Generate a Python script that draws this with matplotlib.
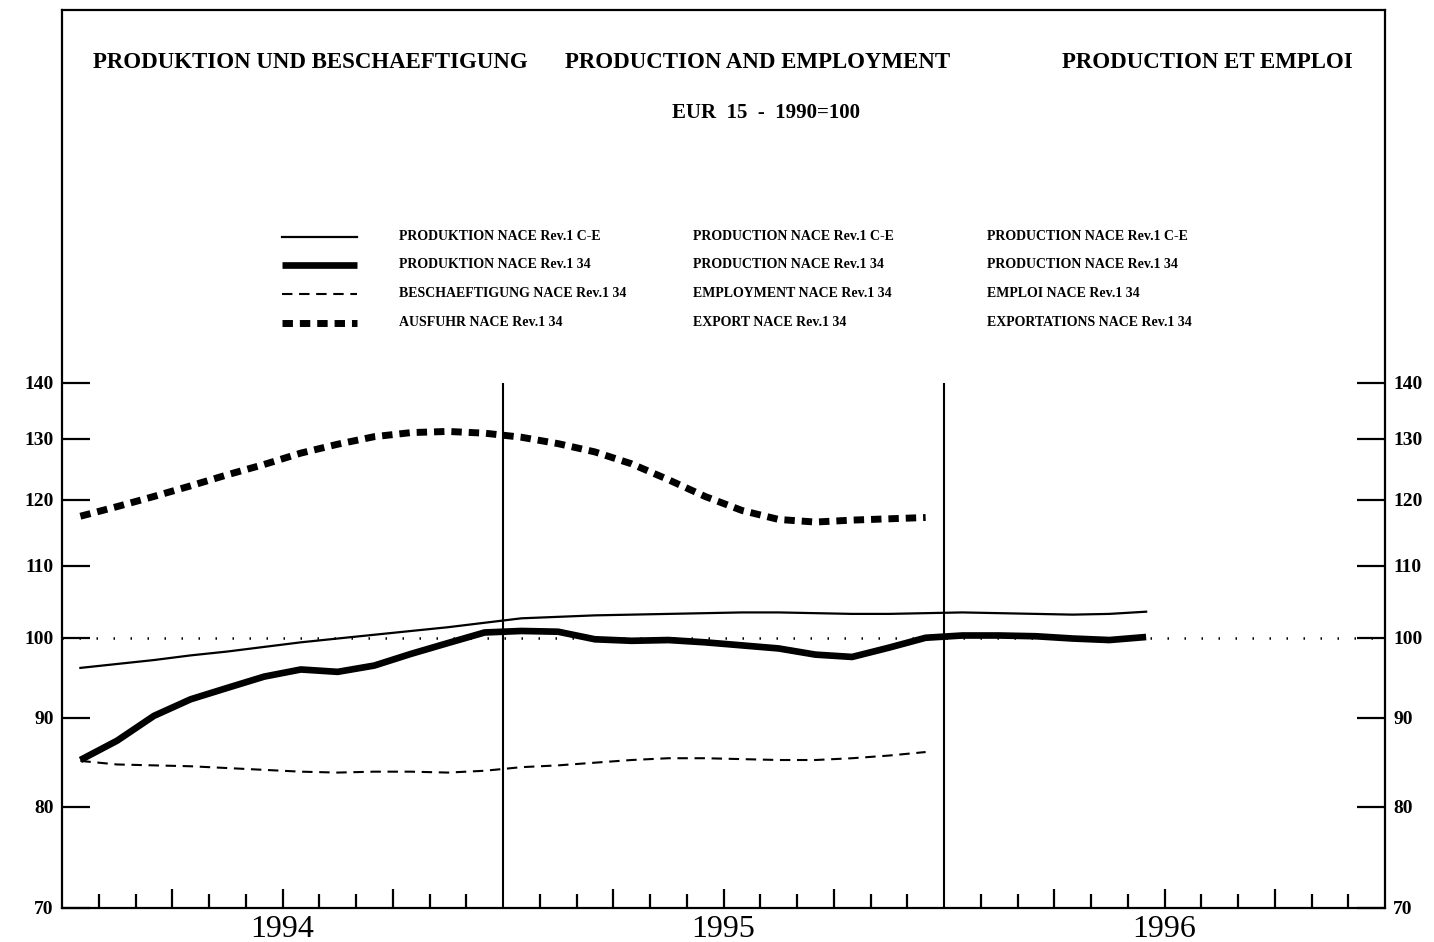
import matplotlib
matplotlib.use('Agg')
import matplotlib.pyplot as plt
from matplotlib.lines import Line2D
from matplotlib.ticker import FixedLocator, NullLocator, NullFormatter, FixedFormatter
import numpy as np

# monthly index values, Jan 1994 onwards (EUR 15, 1990=100)
prod_ce = [96.1, 96.6, 97.1, 97.7, 98.2, 98.8, 99.4, 99.9, 100.4, 100.9, 101.4, 102.0,
           102.6, 102.8, 103.0, 103.1, 103.2, 103.3, 103.4, 103.4, 103.3, 103.2, 103.2, 103.3,
           103.4, 103.3, 103.2, 103.1, 103.2, 103.5]
prod_34 = [85.1, 87.3, 90.2, 92.2, 93.6, 95.0, 95.9, 95.6, 96.4, 97.9, 99.3, 100.7,
           100.9, 100.8, 99.8, 99.6, 99.7, 99.4, 99.0, 98.6, 97.8, 97.5, 98.7, 100.0,
           100.3, 100.3, 100.2, 99.9, 99.7, 100.1]
empl_34 = [85.0, 84.6, 84.5, 84.4, 84.2, 84.0, 83.8, 83.7, 83.8, 83.8, 83.7, 83.9,
           84.3, 84.5, 84.8, 85.1, 85.3, 85.3, 85.2, 85.1, 85.1, 85.3, 85.6, 86.0]
export_34 = [117.4, 118.9, 120.5, 122.2, 124.0, 125.7, 127.6, 129.1, 130.4, 131.1, 131.3, 131.0,
             130.3, 129.2, 127.8, 125.8, 123.2, 120.5, 118.3, 116.9, 116.5, 116.8, 117.0, 117.2]

years = ['1994', '1995', '1996']
yticks = [70, 80, 90, 100, 110, 120, 130, 140]

titles = ['PRODUKTION UND BESCHAEFTIGUNG', 'PRODUCTION AND EMPLOYMENT', 'PRODUCTION ET EMPLOI']
subtitle = 'EUR  15  -  1990=100'
legend_de = ['PRODUKTION NACE Rev.1 C-E', 'PRODUKTION NACE Rev.1 34',
             'BESCHAEFTIGUNG NACE Rev.1 34', 'AUSFUHR NACE Rev.1 34']
legend_en = ['PRODUCTION NACE Rev.1 C-E', 'PRODUCTION NACE Rev.1 34',
             'EMPLOYMENT NACE Rev.1 34', 'EXPORT NACE Rev.1 34']
legend_fr = ['PRODUCTION NACE Rev.1 C-E', 'PRODUCTION NACE Rev.1 34',
             'EMPLOI NACE Rev.1 34', 'EXPORTATIONS NACE Rev.1 34']

serif = 'Liberation Serif'
styles = [dict(lw=1.6, ls='-'),
          dict(lw=4.8, ls='-', solid_capstyle='butt'),
          dict(lw=1.5, ls=(0, (5, 3.2))),
          dict(lw=5.0, ls=(0, (1.5, 1.0)))]

fig = plt.figure(figsize=(14.34, 9.42), dpi=100)
ax = fig.add_axes([62 / 1434, 34 / 942, 1323 / 1434, 898 / 942])
ax.set_yscale('log')
ax.set_xlim(0, 36)
ax.set_ylim(70, 229)

def xs(vals):
    return np.arange(len(vals)) + 0.5

series = [prod_ce, prod_34, empl_34, export_34]
for vals, st in zip(series, styles):
    ax.plot(xs(vals), vals, color='black', **st)

# reference line at 100 and year separators
ax.axhline(100, color='black', lw=1.8, ls=(0, (0.6, 6.2)))
ax.vlines([12, 24], 70, 140, color='black', lw=1.5)

for s in ax.spines.values():
    s.set_linewidth(1.6)

# y axis, labels on both sides
ax.yaxis.set_major_locator(FixedLocator(yticks))
ax.yaxis.set_major_formatter(FixedFormatter([str(v) for v in yticks]))
ax.yaxis.set_minor_locator(NullLocator())
ax.yaxis.set_minor_formatter(NullFormatter())
ax.tick_params(axis='y', which='major', direction='in', length=20, width=1.6,
               left=True, right=True, labelleft=True, labelright=True, pad=6)
for lab in ax.get_yticklabels():
    lab.set_fontfamily(serif)
    lab.set_fontweight('bold')
    lab.set_fontsize(14)

# x axis: month and quarter ticks
quarters = [q for q in range(3, 36, 3) if q % 12 != 0]
months = [m for m in range(1, 36) if m % 12 != 0]
ax.xaxis.set_major_locator(FixedLocator(quarters))
ax.xaxis.set_minor_locator(FixedLocator(months))
ax.xaxis.set_major_formatter(NullFormatter())
ax.tick_params(axis='x', which='major', direction='in', length=14, width=1.6, top=False)
ax.tick_params(axis='x', which='minor', direction='in', length=10, width=1.6, top=False)

for i, yr in enumerate(years):
    ax.text(12 * i + 6, -0.008, yr, transform=ax.get_xaxis_transform(),
            ha='center', va='top', fontsize=23, family=serif)

# titles
title_x = [93, 565, 1062]
for t, x in zip(titles, title_x):
    fig.text(x / 1434, 1 - 62 / 942, t, ha='left', va='center', fontsize=16.5,
             family=serif, fontweight='bold')
fig.text(766 / 1434, 1 - 113 / 942, subtitle, ha='center', va='center', fontsize=15,
         family=serif, fontweight='bold')

# legend
rows_y = [237, 265, 294, 323]
for y, st, de, en, fr in zip(rows_y, styles, legend_de, legend_en, legend_fr):
    fy = 1 - y / 942
    fig.add_artist(Line2D([282 / 1434, 357 / 1434], [fy, fy], color='black',
                          transform=fig.transFigure, **st))
    for x, t in zip([399, 693, 987], [de, en, fr]):
        fig.text(x / 1434, fy, t, ha='left', va='center', fontsize=10,
                 family=serif, fontweight='bold')

fig.savefig('out.png', dpi=100)
